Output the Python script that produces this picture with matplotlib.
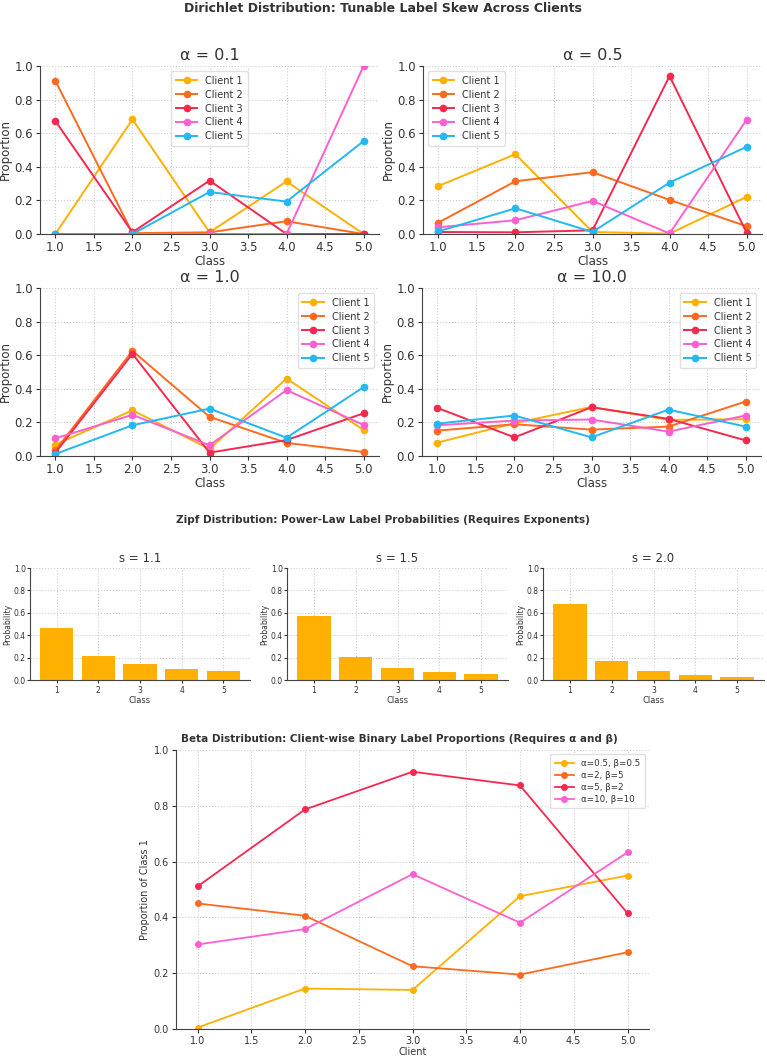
import matplotlib
matplotlib.use("Agg")
import matplotlib.pyplot as plt

W, H = 767, 1057

# ---------------- data ----------------
classes = [1, 2, 3, 4, 5]
clients = ["Client 1", "Client 2", "Client 3", "Client 4", "Client 5"]
alphas = ["0.1", "0.5", "1.0", "10.0"]

dir_a01 = [
    [0.0, 0.682, 0.010, 0.313, 0.0],
    [0.911, 0.005, 0.010, 0.076, 0.0],
    [0.672, 0.010, 0.318, 0.0, 0.0],
    [0.0, 0.0, 0.0, 0.0, 1.0],
    [0.0, 0.0, 0.250, 0.193, 0.553],
]
dir_a05 = [
    [0.286, 0.475, 0.012, 0.002, 0.221],
    [0.068, 0.314, 0.368, 0.203, 0.046],
    [0.012, 0.010, 0.022, 0.940, 0.008],
    [0.040, 0.082, 0.197, 0.003, 0.680],
    [0.016, 0.153, 0.012, 0.306, 0.519],
]
dir_a1 = [
    [0.068, 0.272, 0.042, 0.461, 0.155],
    [0.034, 0.626, 0.233, 0.078, 0.024],
    [0.020, 0.608, 0.020, 0.095, 0.254],
    [0.105, 0.245, 0.064, 0.392, 0.185],
    [0.012, 0.183, 0.282, 0.109, 0.410],
]
dir_a10 = [
    [0.080, 0.195, 0.292, 0.215, 0.219],
    [0.151, 0.189, 0.157, 0.175, 0.324],
    [0.286, 0.111, 0.290, 0.221, 0.093],
    [0.183, 0.211, 0.217, 0.145, 0.241],
    [0.193, 0.241, 0.111, 0.276, 0.175],
]
dirichlet_data = [dir_a01, dir_a05, dir_a1, dir_a10]
legend_locs = ["upper center", "upper left", "upper right", "upper right"]

zipf_s = ["1.1", "1.5", "2.0"]
zipf_s11 = [0.464, 0.217, 0.139, 0.101, 0.079]
zipf_s15 = [0.568, 0.201, 0.109, 0.071, 0.051]
zipf_s20 = [0.683, 0.171, 0.076, 0.043, 0.027]
zipf_data = [zipf_s11, zipf_s15, zipf_s20]

beta_clients = [1, 2, 3, 4, 5]
beta_labels = ["α=0.5, β=0.5", "α=2, β=5", "α=5, β=2", "α=10, β=10"]
beta_a05_b05 = [0.005, 0.145, 0.140, 0.476, 0.550]
beta_a2_b5 = [0.450, 0.406, 0.225, 0.195, 0.275]
beta_a5_b2 = [0.511, 0.787, 0.922, 0.873, 0.415]
beta_a10_b10 = [0.303, 0.358, 0.555, 0.381, 0.633]
beta_data = [beta_a05_b05, beta_a2_b5, beta_a5_b2, beta_a10_b10]

colors = ["#FFB000", "#FF6A1F", "#F5284F", "#FF5FCF", "#22B8F2"]
bar_color = "#FFB000"
txt = "#333333"

plt.rcParams.update({
    "font.family": ["DejaVu Sans"],
    "text.color": txt,
    "axes.labelcolor": txt,
    "xtick.color": txt,
    "ytick.color": txt,
    "axes.edgecolor": "#555555",
})

fig = plt.figure(figsize=(W / 100, H / 100), dpi=100)


def add_ax(left, right, top, bottom):
    return fig.add_axes([left / W, 1 - bottom / H, (right - left) / W, (bottom - top) / H])


def style(ax, tick_fs, grid=True, tlen=3):
    for s in ["top", "right"]:
        ax.spines[s].set_visible(False)
    ax.spines["left"].set_color("#444444")
    ax.spines["bottom"].set_color("#444444")
    ax.tick_params(labelsize=tick_fs, length=tlen, width=0.8, pad=2)
    if grid:
        ax.grid(True, linestyle=":", color="#cccccc", linewidth=0.8)
        ax.set_axisbelow(True)


# ---------------- Dirichlet ----------------
fig.text(383 / W, 1 - 8 / H, "Dirichlet Distribution: Tunable Label Skew Across Clients",
         ha="center", va="center", fontsize=9, fontweight="bold", color=txt)

boxes = [(40, 379, 66, 234), (423, 762, 66, 234), (40, 379, 288, 456), (422, 761, 288, 456)]
for i, (box, data) in enumerate(zip(boxes, dirichlet_data)):
    ax = add_ax(*box)
    for c, (vals, name) in enumerate(zip(data, clients)):
        ax.plot(classes, vals, marker="o", markersize=4.5, linewidth=1.4,
                color=colors[c], label=name)
    ax.set_ylim(0, 1.0)
    ax.set_xlim(0.8, 5.2)
    ax.set_xticks([1.0, 1.5, 2.0, 2.5, 3.0, 3.5, 4.0, 4.5, 5.0])
    ax.set_title(f"α = {alphas[i]}", fontsize=11.5, pad=4, color=txt)
    ax.set_xlabel("Class", fontsize=8.5, labelpad=1)
    ax.set_ylabel("Proportion", fontsize=8.5, labelpad=2)
    style(ax, 8.5)
    leg = ax.legend(loc=legend_locs[i], fontsize=7, handlelength=2.2,
                    labelspacing=0.4, borderpad=0.5, framealpha=0.9)
    leg.get_frame().set_edgecolor("#dddddd")

# ---------------- Zipf ----------------
fig.text(383 / W, 1 - 520 / H, "Zipf Distribution: Power-Law Label Probabilities (Requires Exponents)",
         ha="center", va="center", fontsize=7.5, fontweight="bold", color=txt)
zboxes = [(30, 250, 568, 680), (287, 508, 568, 680), (543, 764, 568, 680)]
for i, (box, vals) in enumerate(zip(zboxes, zipf_data)):
    ax = add_ax(*box)
    ax.bar(classes, vals, color=bar_color, width=0.8)
    ax.set_ylim(0, 1.0)
    ax.set_xticks(classes)
    ax.set_title(f"s = {zipf_s[i]}", fontsize=8.5, pad=4, color=txt)
    ax.set_xlabel("Class", fontsize=6, labelpad=1)
    ax.set_ylabel("Probability", fontsize=5.5, labelpad=1)
    style(ax, 5.5, tlen=2)
    ax.tick_params(axis="y", pad=1)

# ---------------- Beta ----------------
ax = add_ax(176, 649, 750, 1029)
for c, (vals, name) in enumerate(zip(beta_data, beta_labels)):
    ax.plot(beta_clients, vals, marker="o", markersize=4, linewidth=1.3,
            color=colors[c], label=name)
ax.set_ylim(0, 1.0)
ax.set_xlim(0.8, 5.2)
ax.set_xticks([1.0, 1.5, 2.0, 2.5, 3.0, 3.5, 4.0, 4.5, 5.0])
fig.text(399 / W, 1 - 739 / H,
         "Beta Distribution: Client-wise Binary Label Proportions (Requires α and β)",
         ha="center", va="center", fontsize=7.5, fontweight="bold", color=txt)
ax.set_xlabel("Client", fontsize=7, labelpad=1)
ax.set_ylabel("Proportion of Class 1", fontsize=7, labelpad=3)
style(ax, 7)
leg = ax.legend(loc="upper right", fontsize=6.3, handlelength=2.2,
                labelspacing=0.35, borderpad=0.5, framealpha=0.9)
leg.get_frame().set_edgecolor("#dddddd")

fig.savefig("out.png", dpi=100, facecolor="white")
